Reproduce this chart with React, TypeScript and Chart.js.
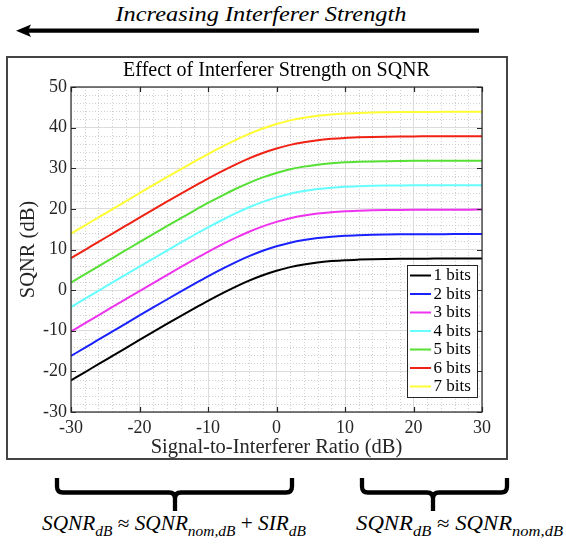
import React, { useEffect, useRef } from 'react';
import { Chart, registerables } from 'chart.js';

Chart.register(...registerables);

// Signal-to-interferer ratio samples (dB)
const SIR_DB = [
  -30, -28, -26, -24, -22, -20, -18, -16, -14, -12, -10, -8, -6, -4, -2, 0,
  2, 4, 6, 8, 10, 12, 14, 16, 18, 20, 22, 24, 26, 28, 30,
];

// SQNR (dB) for each quantizer resolution
const SQNR_1BIT = [
  -22.22, -20.23, -18.23, -16.24, -14.25, -12.26, -10.29, -8.33, -6.39, -4.49, -2.63,
  -0.86, 0.81, 2.33, 3.66, 4.77, 5.66, 6.32, 6.81, 7.14, 7.37, 7.51, 7.61, 7.67, 7.71,
  7.74, 7.75, 7.76, 7.77, 7.77, 7.78,
];
const SQNR_2BIT = [
  -16.2, -14.21, -12.21, -10.22, -8.23, -6.24, -4.27, -2.31, -0.37, 1.53, 3.39, 5.16,
  6.83, 8.35, 9.68, 10.79, 11.68, 12.34, 12.83, 13.16, 13.39, 13.53, 13.63, 13.69,
  13.73, 13.76, 13.77, 13.78, 13.79, 13.79, 13.8,
];
const SQNR_3BIT = [
  -10.18, -8.19, -6.19, -4.2, -2.21, -0.22, 1.75, 3.71, 5.65, 7.55, 9.41, 11.18, 12.85,
  14.37, 15.7, 16.81, 17.7, 18.36, 18.85, 19.18, 19.41, 19.55, 19.65, 19.71, 19.75,
  19.78, 19.79, 19.8, 19.81, 19.81, 19.82,
];
const SQNR_4BIT = [
  -4.16, -2.17, -0.17, 1.82, 3.81, 5.8, 7.77, 9.73, 11.67, 13.57, 15.43, 17.2, 18.87,
  20.39, 21.72, 22.83, 23.72, 24.38, 24.87, 25.2, 25.43, 25.57, 25.67, 25.73, 25.77,
  25.8, 25.81, 25.82, 25.83, 25.83, 25.84,
];
const SQNR_5BIT = [
  1.86, 3.85, 5.85, 7.84, 9.83, 11.82, 13.79, 15.75, 17.69, 19.59, 21.45, 23.22, 24.89,
  26.41, 27.74, 28.85, 29.74, 30.4, 30.89, 31.22, 31.45, 31.59, 31.69, 31.75, 31.79,
  31.82, 31.83, 31.84, 31.85, 31.85, 31.86,
];
const SQNR_6BIT = [
  7.88, 9.87, 11.87, 13.86, 15.85, 17.84, 19.81, 21.77, 23.71, 25.61, 27.47, 29.24,
  30.91, 32.43, 33.76, 34.87, 35.76, 36.42, 36.91, 37.24, 37.47, 37.61, 37.71, 37.77,
  37.81, 37.84, 37.85, 37.86, 37.87, 37.87, 37.88,
];
const SQNR_7BIT = [
  13.9, 15.89, 17.89, 19.88, 21.87, 23.86, 25.83, 27.79, 29.73, 31.63, 33.49, 35.26,
  36.93, 38.45, 39.78, 40.89, 41.78, 42.44, 42.93, 43.26, 43.49, 43.63, 43.73, 43.79,
  43.83, 43.86, 43.87, 43.88, 43.89, 43.89, 43.9,
];

const SERIES_LABELS = ['1 bits', '2 bits', '3 bits', '4 bits', '5 bits', '6 bits', '7 bits'];
const SERIES_VALUES = [SQNR_1BIT, SQNR_2BIT, SQNR_3BIT, SQNR_4BIT, SQNR_5BIT, SQNR_6BIT, SQNR_7BIT];
const SERIES_COLORS = ['#000000', '#1a22ff', '#ee33ee', '#66ffff', '#55e033', '#f02214', '#ffff33'];

const X_MIN = -30;
const X_MAX = 30;
const Y_MIN = -30;
const Y_MAX = 50;
const MAJOR_STEP = 10;
const MINOR_STEP = 2;

const SERIF = '"Liberation Serif", "Times New Roman", serif';
const AXIS_COLOR = '#262626';

// Dotted minor grid between the major grid lines
const minorGrid = {
  id: 'minorGrid',
  beforeDatasetsDraw(chart: any) {
    const { ctx, chartArea, scales } = chart;
    const { left, right, top, bottom } = chartArea;
    ctx.save();
    ctx.strokeStyle = '#cfcfcf';
    ctx.lineWidth = 1;
    ctx.setLineDash([1, 2]);
    for (let v = X_MIN; v <= X_MAX; v += MINOR_STEP) {
      if (v % MAJOR_STEP === 0) continue;
      const px = Math.round(scales.x.getPixelForValue(v)) + 0.5;
      ctx.beginPath();
      ctx.moveTo(px, top);
      ctx.lineTo(px, bottom);
      ctx.stroke();
    }
    for (let v = Y_MIN; v <= Y_MAX; v += MINOR_STEP) {
      if (v % MAJOR_STEP === 0) continue;
      const py = Math.round(scales.y.getPixelForValue(v)) + 0.5;
      ctx.beginPath();
      ctx.moveTo(left, py);
      ctx.lineTo(right, py);
      ctx.stroke();
    }
    ctx.restore();
  },
};

// Closed axes box with inward-pointing tick marks on all four sides
const axesBox = {
  id: 'axesBox',
  afterDatasetsDraw(chart: any) {
    const { ctx, chartArea, scales } = chart;
    const { left, right, top, bottom } = chartArea;
    const len = 5;
    ctx.save();
    ctx.strokeStyle = AXIS_COLOR;
    ctx.lineWidth = 1.2;
    ctx.beginPath();
    scales.x.ticks.forEach((t: any) => {
      const px = Math.round(scales.x.getPixelForValue(t.value)) + 0.5;
      ctx.moveTo(px, bottom);
      ctx.lineTo(px, bottom - len);
      ctx.moveTo(px, top);
      ctx.lineTo(px, top + len);
    });
    scales.y.ticks.forEach((t: any) => {
      const py = Math.round(scales.y.getPixelForValue(t.value)) + 0.5;
      ctx.moveTo(left, py);
      ctx.lineTo(left + len, py);
      ctx.moveTo(right, py);
      ctx.lineTo(right - len, py);
    });
    ctx.stroke();
    ctx.strokeRect(left, top, right - left, bottom - top);
    ctx.restore();
  },
};

// Legend box in the lower right corner of the axes
const cornerLegend = {
  id: 'cornerLegend',
  afterDraw(chart: any) {
    const { ctx, chartArea } = chart;
    const sets = chart.data.datasets;
    const rowH = 18.5;
    const w = 70;
    const h = 21 + rowH * (sets.length - 1);
    const x0 = chartArea.right - 5 - w;
    const y0 = chartArea.bottom - 15 - h;
    ctx.save();
    ctx.fillStyle = '#ffffff';
    ctx.fillRect(x0, y0, w, h);
    ctx.strokeStyle = AXIS_COLOR;
    ctx.lineWidth = 1;
    ctx.strokeRect(x0 + 0.5, y0 + 0.5, w, h);
    ctx.font = `17px ${SERIF}`;
    ctx.textAlign = 'left';
    ctx.textBaseline = 'middle';
    sets.forEach((ds: any, i: number) => {
      const cy = y0 + 10.5 + i * rowH;
      ctx.strokeStyle = ds.borderColor;
      ctx.lineWidth = 2;
      ctx.beginPath();
      ctx.moveTo(x0 + 3, cy);
      ctx.lineTo(x0 + 24, cy);
      ctx.stroke();
      ctx.fillStyle = '#000000';
      ctx.fillText(ds.label, x0 + 26.5, cy + 0.5);
    });
    ctx.restore();
  },
};

function SqnrChart() {
  const canvasRef = useRef<HTMLCanvasElement | null>(null);

  useEffect(() => {
    const canvas = canvasRef.current;
    if (!canvas) return;
    const chart = new Chart(canvas, {
      type: 'line',
      data: {
        datasets: SERIES_VALUES.map((vals, i) => ({
          label: SERIES_LABELS[i],
          data: SIR_DB.map((x, j) => ({ x, y: vals[j] })),
          borderColor: SERIES_COLORS[i],
          backgroundColor: SERIES_COLORS[i],
          borderWidth: 2,
          pointRadius: 0,
          cubicInterpolationMode: 'monotone' as const,
          fill: false,
        })),
      },
      options: {
        responsive: false,
        animation: false,
        events: [],
        layout: { padding: { top: 0, right: 24, bottom: 0, left: 0 } },
        plugins: {
          legend: { display: false },
          tooltip: { enabled: false },
          title: {
            display: true,
            text: 'Effect of Interferer Strength on SQNR',
            fullSize: false,
            color: '#000000',
            font: { family: SERIF, size: 20, weight: 'normal', lineHeight: 1.2 },
            padding: { top: 0.5, bottom: 4.5 },
          },
        },
        scales: {
          x: {
            type: 'linear',
            min: X_MIN,
            max: X_MAX,
            afterFit: (scale: any) => {
              scale.height = 46;
            },
            ticks: {
              stepSize: MAJOR_STEP,
              autoSkip: false,
              maxRotation: 0,
              padding: 5,
              color: AXIS_COLOR,
              font: { family: SERIF, size: 18 },
              callback: (v: any) => String(v),
            },
            grid: { color: '#dcdcdc', lineWidth: 1, drawTicks: false },
            border: { display: false },
            title: {
              display: true,
              text: 'Signal-to-Interferer Ratio (dB)',
              color: AXIS_COLOR,
              font: { family: SERIF, size: 20.5, lineHeight: 1 },
              padding: { top: 0, bottom: 0 },
            },
          },
          y: {
            type: 'linear',
            min: Y_MIN,
            max: Y_MAX,
            afterFit: (scale: any) => {
              scale.width = 63;
            },
            ticks: {
              stepSize: MAJOR_STEP,
              autoSkip: false,
              padding: 4,
              color: AXIS_COLOR,
              font: { family: SERIF, size: 18 },
              callback: (v: any) => String(v),
            },
            grid: { color: '#dcdcdc', lineWidth: 1, drawTicks: false },
            border: { display: false },
            title: {
              display: true,
              text: 'SQNR (dB)',
              color: AXIS_COLOR,
              font: { family: SERIF, size: 20.5, lineHeight: 1 },
              padding: { top: 10.5, bottom: 0 },
            },
          },
        },
      },
      plugins: [minorGrid, axesBox, cornerLegend],
    } as any);
    return () => chart.destroy();
  }, []);

  return <canvas ref={canvasRef} width={498} height={400} style={{ display: 'block' }} />;
}

// Curly brace opening upward, with its point at xm
function Brace({ x0, x1, xm }: { x0: number; x1: number; xm: number }) {
  const yt = 478;
  const yh = 492.5;
  const yb = 511;
  const r = 6;
  const d =
    `M ${x0} ${yt} L ${x0} ${yh - r} Q ${x0} ${yh} ${x0 + r} ${yh} L ${xm - r} ${yh} ` +
    `Q ${xm} ${yh} ${xm} ${yh + r} L ${xm} ${yb} ` +
    `M ${x1} ${yt} L ${x1} ${yh - r} Q ${x1} ${yh} ${x1 - r} ${yh} L ${xm + r} ${yh} ` +
    `Q ${xm} ${yh} ${xm} ${yh + r}`;
  return <path d={d} fill="none" stroke="#000" strokeWidth={4.3} strokeLinejoin="round" />;
}

export default function App() {
  const mathFont = { fontFamily: SERIF, fontStyle: 'italic' as const, whiteSpace: 'pre' as const };
  return (
    <div style={{ position: 'absolute', left: 0, top: 0, width: 566, height: 548, background: '#ffffff' }}>
      <svg width={566} height={548} style={{ position: 'absolute', left: 0, top: 0 }}>
        <text
          x={261}
          y={21}
          textAnchor="middle"
          fontSize={21}
          textLength={291}
          lengthAdjust="spacingAndGlyphs"
          style={mathFont}
          fill="#000"
        >
          Increasing Interferer Strength
        </text>
        <line x1={27} y1={30.7} x2={479} y2={30.7} stroke="#000" strokeWidth={4.3} />
        <polygon points="16,30.7 31,24.5 28,30.7 31,36.9" fill="#000" />

        <Brace x0={57} x1={292} xm={175} />
        <Brace x0={362} x1={507} xm={433} />

        <text x={42} y={530} fontSize={20} textLength={264} lengthAdjust="spacingAndGlyphs" style={mathFont} fill="#000">
          <tspan>SQNR</tspan>
          <tspan dy={6} fontSize={14.5}>dB</tspan>
          <tspan dy={-6} style={{ fontStyle: 'normal' }}>{' ≈ '}</tspan>
          <tspan>SQNR</tspan>
          <tspan dy={6} fontSize={14.5}>nom,dB</tspan>
          <tspan dy={-6} style={{ fontStyle: 'normal' }}>{' + '}</tspan>
          <tspan>SIR</tspan>
          <tspan dy={6} fontSize={14.5}>dB</tspan>
        </text>
        <text x={356} y={530} fontSize={20} textLength={207} lengthAdjust="spacingAndGlyphs" style={mathFont} fill="#000">
          <tspan>SQNR</tspan>
          <tspan dy={6} fontSize={14.5}>dB</tspan>
          <tspan dy={-6} style={{ fontStyle: 'normal' }}>{' ≈ '}</tspan>
          <tspan>SQNR</tspan>
          <tspan dy={6} fontSize={14.5}>nom,dB</tspan>
        </text>
      </svg>
      <div
        style={{
          position: 'absolute',
          left: 6,
          top: 56,
          width: 498,
          height: 400,
          border: '2px solid #444',
          background: '#ffffff',
        }}
      >
        <SqnrChart />
      </div>
    </div>
  );
}
